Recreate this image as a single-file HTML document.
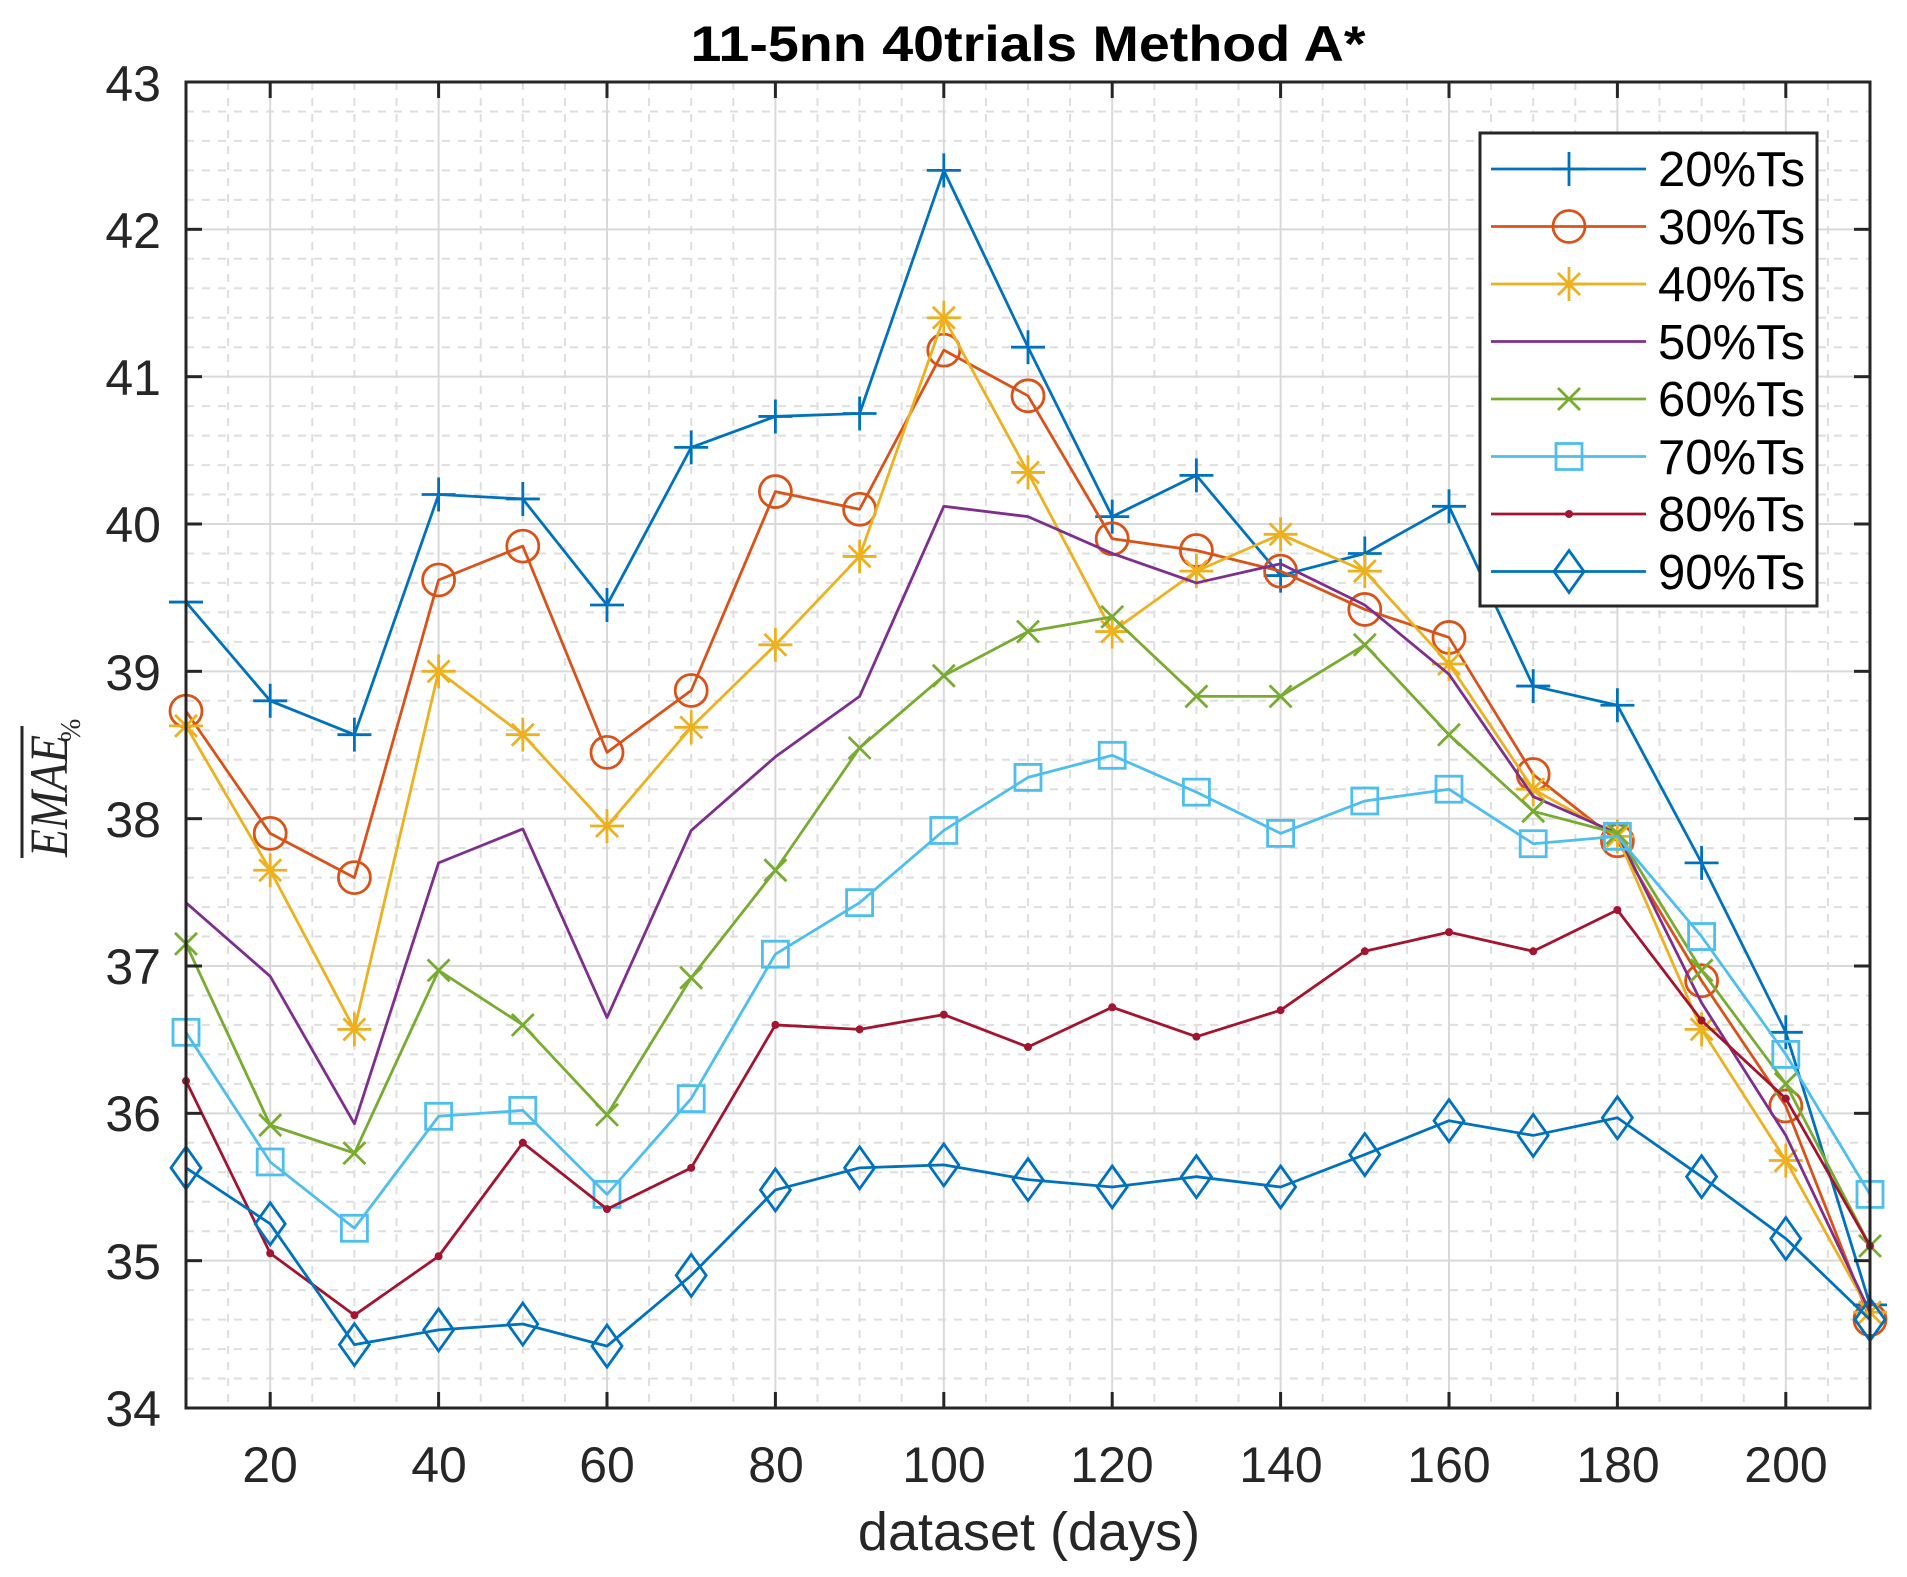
<!DOCTYPE html>
<html><head><meta charset="utf-8"><style>html,body{margin:0;padding:0;background:#fff}svg{display:block}</style></head>
<body>
<svg id="s" width="1907" height="1577" viewBox="0 0 1907 1577" xmlns="http://www.w3.org/2000/svg" font-family="Liberation Sans, sans-serif">
<rect width="1907" height="1577" fill="#fff"/>
<g id="grid"></g>
<g id="series"></g>
<rect x="186" y="82" width="1684" height="1326" fill="none" stroke="#262626" stroke-width="3"/>
<g id="ticks"></g>
<text x="1028" y="61" text-anchor="middle" font-size="50" font-weight="bold" textLength="675" lengthAdjust="spacingAndGlyphs" fill="#000">11-5nn 40trials Method A*</text>
<g font-size="50" fill="#262626" text-anchor="end">
<text x="161" y="1426">34</text><text x="161" y="1279">35</text><text x="161" y="1131">36</text><text x="161" y="984">37</text><text x="161" y="837">38</text><text x="161" y="690">39</text><text x="161" y="542">40</text><text x="161" y="395">41</text><text x="161" y="248">42</text><text x="161" y="101">43</text>
</g>
<g font-size="50" fill="#262626" text-anchor="middle">
<text x="270" y="1482">20</text><text x="439" y="1482">40</text><text x="607" y="1482">60</text><text x="776" y="1482">80</text><text x="944" y="1482">100</text><text x="1112" y="1482">120</text><text x="1281" y="1482">140</text><text x="1449" y="1482">160</text><text x="1618" y="1482">180</text><text x="1786" y="1482">200</text>
<text x="1029" y="1550" font-size="54">dataset (days)</text>
</g>
<g fill="#262626">
<line x1="22" y1="726" x2="22" y2="858" stroke="#262626" stroke-width="3"/>
<text transform="translate(67,857) rotate(-90)" font-family="Liberation Serif, serif" font-style="italic" font-size="54" textLength="122" lengthAdjust="spacingAndGlyphs">EMAE</text>
<text transform="translate(80,742) rotate(-90)" font-family="Liberation Serif, serif" font-size="28">%</text>
</g>
<rect x="1480" y="133" width="337" height="473" fill="#fff" stroke="#262626" stroke-width="3"/>
<g id="legend"></g>
<g font-size="49" fill="#000">
<text x="1658" y="186">20%Ts</text><text x="1658" y="244">30%Ts</text><text x="1658" y="301">40%Ts</text><text x="1658" y="359">50%Ts</text><text x="1658" y="416">60%Ts</text><text x="1658" y="474">70%Ts</text><text x="1658" y="531">80%Ts</text><text x="1658" y="589">90%Ts</text>
</g>
</svg>
<script>
var NS="http://www.w3.org/2000/svg";
function el(p,t,a){var e=document.createElementNS(NS,t);for(var k in a)e.setAttribute(k,a[k]);p.appendChild(e);return e;}
var L=186,R=1870,T=82,B=1408;
function X(d){return L+(d-10)/200*(R-L);}
function Y(v){return B-(v-34)/9*(B-T);}
var g=document.getElementById('grid');
for(var d=10;d<=210;d+=5){if(d%20==0)continue;el(g,'line',{x1:X(d),x2:X(d),y1:T,y2:B,stroke:'#dedede','stroke-width':2,'stroke-dasharray':'8,8'});}
for(var i=0;i<=45;i++){if(i%5==0)continue;var v=34+i*0.2;el(g,'line',{x1:L,x2:R,y1:Y(v),y2:Y(v),stroke:'#dedede','stroke-width':2,'stroke-dasharray':'8,8'});}
for(var d=20;d<=200;d+=20)el(g,'line',{x1:X(d),x2:X(d),y1:T,y2:B,stroke:'#d9d9d9','stroke-width':2});
for(var v=35;v<=42;v++)el(g,'line',{x1:L,x2:R,y1:Y(v),y2:Y(v),stroke:'#d9d9d9','stroke-width':2});
var tk=document.getElementById('ticks');
for(var d=20;d<=200;d+=20){el(tk,'line',{x1:X(d),x2:X(d),y1:B,y2:B-16,stroke:'#262626','stroke-width':3});el(tk,'line',{x1:X(d),x2:X(d),y1:T,y2:T+16,stroke:'#262626','stroke-width':3});}
for(var v=35;v<=42;v++){el(tk,'line',{x1:L,x2:L+16,y1:Y(v),y2:Y(v),stroke:'#262626','stroke-width':3});el(tk,'line',{x1:R,x2:R-16,y1:Y(v),y2:Y(v),stroke:'#262626','stroke-width':3});}
var S=[
['#0072BD','plus',[39.47,38.8,38.57,40.2,40.17,39.45,40.52,40.73,40.75,42.4,41.2,40.05,40.33,39.65,39.8,40.12,38.9,38.77,37.7,36.55,34.7]],
['#D95319','circle',[38.73,37.9,37.6,39.62,39.85,38.45,38.87,40.22,40.1,41.18,40.87,39.9,39.82,39.68,39.42,39.23,38.3,37.85,36.9,36.05,34.6]],
['#EDB120','star',[38.63,37.65,36.57,39.0,38.57,37.95,38.62,39.18,39.78,41.4,40.35,39.27,39.68,39.93,39.68,39.05,38.2,37.88,36.57,35.68,34.65]],
['#7E2F8E','none',[37.43,36.93,35.93,37.7,37.93,36.65,37.92,38.42,38.83,40.12,40.05,39.8,39.6,39.73,39.45,38.98,38.15,37.9,36.75,35.85,34.65]],
['#77AC30','x',[37.15,35.92,35.73,36.97,36.6,35.99,36.92,37.65,38.48,38.97,39.27,39.37,38.83,38.83,39.18,38.57,38.05,37.9,36.97,36.2,35.1]],
['#4DBEEE','square',[36.55,35.67,35.22,35.98,36.02,35.45,36.1,37.08,37.43,37.92,38.28,38.43,38.18,37.9,38.12,38.2,37.83,37.88,37.2,36.4,35.45]],
['#A2142F','dot',[36.22,35.05,34.63,35.03,35.8,35.35,35.63,36.6,36.57,36.67,36.45,36.72,36.52,36.7,37.1,37.23,37.1,37.38,36.63,36.1,35.1]],
['#0072BD','diamond',[35.63,35.25,34.43,34.53,34.57,34.42,34.9,35.48,35.63,35.65,35.55,35.5,35.57,35.5,35.72,35.95,35.85,35.97,35.57,35.15,34.6]]
];
function marker(p,m,x,y,c){var a={stroke:c,'stroke-width':2.8,fill:'none'};
if(m=='plus'){el(p,'path',Object.assign({d:'M'+(x-17)+' '+y+'H'+(x+17)+'M'+x+' '+(y-17)+'V'+(y+17)},a));}
else if(m=='circle'){el(p,'circle',Object.assign({cx:x,cy:y,r:16},a));}
else if(m=='star'){var d='M'+(x-17)+' '+y+'H'+(x+17)+'M'+x+' '+(y-17)+'V'+(y+17)+'M'+(x-11)+' '+(y-11)+'L'+(x+11)+' '+(y+11)+'M'+(x-11)+' '+(y+11)+'L'+(x+11)+' '+(y-11);el(p,'path',Object.assign({d:d},a));}
else if(m=='x'){el(p,'path',Object.assign({d:'M'+(x-11)+' '+(y-11)+'L'+(x+11)+' '+(y+11)+'M'+(x-11)+' '+(y+11)+'L'+(x+11)+' '+(y-11)},a));}
else if(m=='square'){el(p,'rect',Object.assign({x:x-13,y:y-13,width:26,height:26},a));}
else if(m=='dot'){el(p,'circle',{cx:x,cy:y,r:4,fill:c});}
else if(m=='diamond'){el(p,'path',Object.assign({d:'M'+x+' '+(y-21)+'L'+(x+15)+' '+y+'L'+x+' '+(y+21)+'L'+(x-15)+' '+y+'Z'},a));}
}
var sg=document.getElementById('series');
S.forEach(function(s){var pts=s[2].map(function(v,i){return X(10+i*10)+','+Y(v);}).join(' ');
el(sg,'polyline',{points:pts,fill:'none',stroke:s[0],'stroke-width':2.8,'stroke-linejoin':'round'});
s[2].forEach(function(v,i){marker(sg,s[1],X(10+i*10),Y(v),s[0]);});});
var lg=document.getElementById('legend');
S.forEach(function(s,i){var y=169+i*57.5;el(lg,'line',{x1:1491,x2:1646,y1:y,y2:y,stroke:s[0],'stroke-width':2.8});marker(lg,s[1],1569,y,s[0]);});
</script>
</body></html>
